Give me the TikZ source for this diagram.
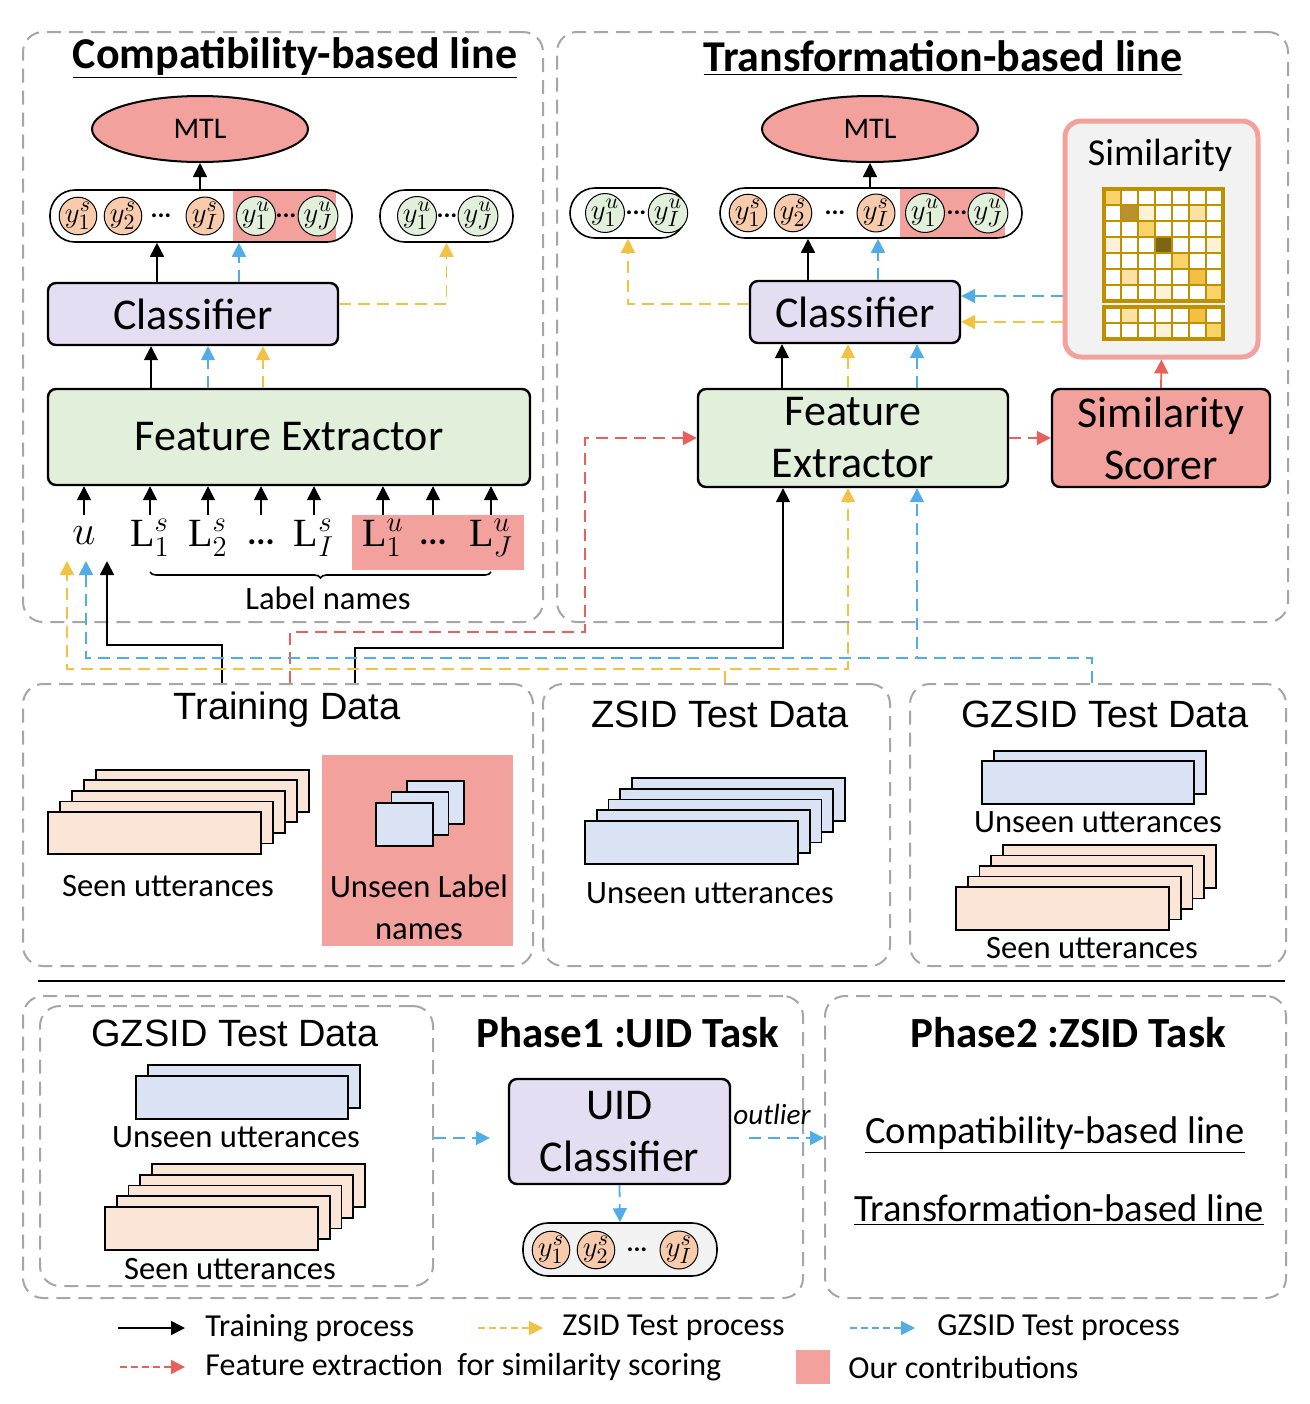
\documentclass[tikz,border=0pt]{standalone}
\usepackage{fontspec}
\setmainfont{Carlito}
\newfontfamily\arialfont{Liberation Sans}
\newfontfamily\serifl{Liberation Serif}
\usetikzlibrary{arrows.meta, positioning, shapes.geometric, decorations.pathreplacing}

\definecolor{contrib}{HTML}{F2A19D}
\definecolor{clsfill}{HTML}{E5DDF1}
\definecolor{fefill}{HTML}{E2EFDA}
\definecolor{seenfill}{HTML}{FBE5D6}
\definecolor{seencirc}{HTML}{F8CBAD}
\definecolor{unseenfill}{HTML}{DAE3F3}
\definecolor{zsidcol}{HTML}{F4C242}
\definecolor{gzsidcol}{HTML}{52ADE6}
\definecolor{featcol}{HTML}{E8605A}
\definecolor{panelgray}{HTML}{A6A6A6}
\definecolor{simgray}{HTML}{F2F2F2}
\definecolor{gold}{HTML}{BF9000}
\definecolor{mgA}{HTML}{FDF1D8}
\definecolor{mgB}{HTML}{FBE2A4}
\definecolor{mgC}{HTML}{F8D36A}
\definecolor{mgD}{HTML}{F4C043}
\definecolor{mgE}{HTML}{B8922E}
\definecolor{mgF}{HTML}{7F6414}

\newcommand\lname[2]{$\mbox{\serifl L}^{#1}_{#2}$}

\tikzset{
  panel/.style={draw=panelgray, line width=1pt, dash pattern=on 7pt off 4pt, rounded corners=10pt, inner sep=0pt},
  blk/.style={draw, line width=1.2pt, rounded corners=4pt, align=center, inner sep=0pt, font=\fontsize{22}{26}\selectfont},
  clsbox/.style={blk, fill=clsfill},
  febox/.style={blk, fill=fefill},
  mtl/.style={ellipse, draw, line width=1pt, fill=contrib, minimum width=108pt, minimum height=33pt, font=\fontsize{15}{15}\selectfont},
  pill/.style={draw, line width=0.8pt, rounded corners=12.5pt, inner sep=0pt},
  ys/.style={circle, draw, line width=0.5pt, fill=seencirc, minimum size=17pt, inner sep=0pt, font=\fontsize{15}{15}\selectfont},
  yu/.style={ys, fill=fefill},
  pdots/.style={font=\bfseries\fontsize{13}{13}\selectfont},
  trn/.style={->, line width=0.9pt},
  zs/.style={trn, draw=zsidcol, dash pattern=on 6pt off 3.5pt},
  gz/.style={trn, draw=gzsidcol, dash pattern=on 6pt off 3.5pt},
  ft/.style={trn, draw=featcol, dash pattern=on 6pt off 3.5pt},
  seenrect/.style={draw, line width=0.9pt, fill=seenfill},
  unseenrect/.style={draw, line width=0.9pt, fill=unseenfill},
  cell/.style={draw=gold, line width=1.2pt, fill=white},
  dtitle/.style={font=\arialfont\fontsize{19}{22}\selectfont},
  utxt/.style={font=\fontsize{16.3}{21}\selectfont, align=center},
  btitle/.style={font=\bfseries\fontsize{22}{26}\selectfont},
  inlab/.style={font=\fontsize{20}{20}\selectfont},
  legtxt/.style={anchor=west, inner sep=0pt, font=\fontsize{16}{19}\selectfont},
  lgd/.style={dash pattern=on 3.5pt off 2pt, line width=0.7pt},
}

\begin{document}
\begin{tikzpicture}[x=0.5pt, y=-0.5pt, >={Triangle[width=7pt,length=7pt]}]
\useasboundingbox (0,0) rectangle (1310,1404);

% panels
\node[panel, minimum width=260pt, minimum height=295pt] (cPanel) at (283,327) {};
\node[panel, minimum width=365.5pt, minimum height=295pt] (tPanel) at (922.5,327) {};
\node[panel, minimum width=255pt, minimum height=141pt] (trainP) at (278,825) {};
\node[panel, minimum width=173.5pt, minimum height=141pt] (zsP) at (716.5,825) {};
\node[panel, minimum width=188pt, minimum height=141pt] (gzP) at (1098,825) {};
\node[panel, minimum width=390pt, minimum height=151pt] (p1P) at (413,1147) {};
\node[panel, minimum width=196.5pt, minimum height=140pt] (inP) at (236.5,1146) {};
\node[panel, minimum width=230.5pt, minimum height=151pt] (p2P) at (1055.5,1147) {};
\draw[line width=1.3pt] (38,981) -- (1285,981);

% compatibility-based line
\node[btitle] (cTitle) at (295,58) {\underline{Compatibility-based line}};
\node[mtl] (cMTL) at (200,129) {MTL};
\fill[contrib] (233,190) rectangle (336,242);
\node[pill, minimum width=151pt, minimum height=26pt] (cPill) at (201,216) {};
\foreach \x/\t [count=\i] in {78/{y^s_1}, 123/{y^s_2}, 205/{y^s_I}}
  \node[ys] (cS\i) at (\x,216) {$\t$};
\node[yu] (cU1) at (256,216) {$y^u_1$};
\node[yu] (cUJ) at (318,216) {$y^u_J$};
\node[pdots] (cDa) at (161,216) {...};
\node[pdots] (cDb) at (286,216) {...};
\node[pill, minimum width=66.5pt, minimum height=26pt] (cPill2) at (446.5,216) {};
\node[yu] (cV1) at (417,216) {$y^u_1$};
\node[yu] (cVJ) at (478,216) {$y^u_J$};
\node[pdots] (cDc) at (447,216) {...};
\draw[trn] (cMTL |- cPill.north) -- (cMTL.south);

\node[clsbox, minimum width=145pt, minimum height=31pt] (cCls) at (193,314) {Classifier};
\draw[trn] (157,0 |- cCls.north) -- (157,0 |- cPill.south);
\draw[gz] (239,0 |- cCls.north) -- (239,0 |- cPill.south);
\draw[zs] (cCls.east |- 0,304) -| (cPill2.south);

\node[febox, minimum width=241pt, minimum height=48pt] (cFE) at (289,437) {Feature Extractor};
\draw[trn] (151,0 |- cFE.north) -- (151,0 |- cCls.south);
\draw[gz] (208,0 |- cFE.north) -- (208,0 |- cCls.south);
\draw[zs] (263,0 |- cFE.north) -- (263,0 |- cCls.south);

% inputs
\fill[contrib] (352,515) rectangle (524,570);
\node[inlab] (inU) at (84,536) {$u$};
\node[inlab] (inLa) at (150,538) {\lname{s}{1}};
\node[inlab] (inLb) at (208,538) {\lname{s}{2}};
\node[inlab, font=\bfseries\fontsize{17}{17}\selectfont] (inDa) at (261,542) {...};
\node[inlab] (inLc) at (314,538) {\lname{s}{I}};
\node[inlab] (inLd) at (383,538) {\lname{u}{1}};
\node[inlab, font=\bfseries\fontsize{17}{17}\selectfont] (inDb) at (433,542) {...};
\node[inlab] (inLe) at (491,538) {\lname{u}{J}};
\foreach \n in {inU,inLa,inLb,inDa,inLc,inLd,inDb,inLe}
  \draw[trn] (\n |- 0,515) -- (\n |- cFE.south);
\draw[decorate, decoration={brace, mirror, amplitude=3pt}, line width=0.8pt] (inLa |- 0,572) -- (inLe |- 0,572);
\node[utxt] (lblNames) at (328,598) {Label names};
\coordinate (uTip) at (86,561);

% transformation-based line
\node[btitle] (tTitle) at (943,58) {\underline{Transformation-based line}};
\node[mtl] (tMTL) at (870,129) {MTL};
\fill[contrib] (900,188) rectangle (1005,238);
\node[pill, minimum width=151pt, minimum height=25pt] (tPill) at (871,213) {};
\foreach \x/\t [count=\i] in {748/{y^s_1}, 793/{y^s_2}, 876/{y^s_I}}
  \node[ys] (tS\i) at (\x,213) {$\t$};
\node[yu] (tU1) at (925,213) {$y^u_1$};
\node[yu] (tUJ) at (988,213) {$y^u_J$};
\node[pdots] (tDa) at (835,213) {...};
\node[pdots] (tDb) at (957,213) {...};
\node[pill, minimum width=58pt, minimum height=25pt] (tPill2) at (628,213) {};
\node[yu] (tV1) at (605,213) {$y^u_1$};
\node[yu] (tVI) at (668,213) {$y^u_I$};
\node[pdots] (tDc) at (636,213) {...};
\draw[trn] (tMTL |- tPill.north) -- (tMTL.south);

\node[clsbox, minimum width=105pt, minimum height=31pt] (tCls) at (855,312) {Classifier};
\draw[trn] (808,0 |- tCls.north) -- (808,0 |- tPill.south);
\draw[gz] (878,0 |- tCls.north) -- (878,0 |- tPill.south);
\draw[zs] (tCls.west |- 0,304) -| (tPill2.south);

\node[febox, minimum width=155pt, minimum height=49pt] (tFE) at (853,438) {Feature\\Extractor};
\draw[trn] (782,0 |- tFE.north) -- (782,0 |- tCls.south);
\draw[zs] (848,0 |- tFE.north) -- (848,0 |- tCls.south);
\draw[gz] (917,0 |- tFE.north) -- (917,0 |- tCls.south);

\node[blk, fill=contrib, minimum width=109pt, minimum height=49pt] (scorer) at (1161,438) {Similarity\\Scorer};
\draw[ft] (tFE.east) -- (scorer.west);
\node[draw=contrib, line width=2.5pt, fill=simgray, rounded corners=8pt, minimum width=96.5pt, minimum height=118pt] (simBox) at (1161.5,239) {};
\node[font=\fontsize{19}{22}\selectfont] (simLab) at (1160,155) {Similarity};
\draw[trn, draw=featcol] (scorer.north) -- (simBox.south);
% similarity matrix
\foreach \r in {0,...,6} \foreach \c in {0,...,6}
  \draw[cell] ({1104+17*\c},{189+16*\r}) rectangle +(17,16);
\foreach \c/\r/\col in {0/0/mgC, 1/1/mgE, 2/1/mgA, 5/1/mgB, 2/2/mgC, 0/3/mgA, 3/3/mgF, 6/3/mgA, 4/4/mgC, 1/5/mgB, 5/5/mgD, 3/6/mgA, 6/6/mgC}
  \draw[cell, fill=\col] ({1104+17*\c},{189+16*\r}) rectangle +(17,16);
\foreach \r in {0,1} \foreach \c in {0,...,6}
  \draw[cell] ({1104+17*\c},{307+16*\r}) rectangle +(17,16);
\foreach \c/\r/\col in {1/0/mgB, 5/0/mgD, 3/1/mgA, 6/1/mgC}
  \draw[cell, fill=\col] ({1104+17*\c},{307+16*\r}) rectangle +(17,16);
\draw[gold, line width=1.8pt] (1104,189) rectangle (1223,301) (1104,307) rectangle (1223,339);
\draw[gz] (simBox.west |- 0,296) -- (tCls.east |- 0,296);
\draw[zs] (simBox.west |- 0,322) -- (tCls.east |- 0,322);

% data flows
\draw[trn] (222,0 |- trainP.north) |- (107,645) -- (107,0 |- uTip);
\draw[trn] (355,0 |- trainP.north) |- (783,648) -- (783,0 |- tFE.south);
\draw[ft] (290,0 |- trainP.north) |- (585,632) |- (tFE.west);
\draw[zs] (725,0 |- zsP.north) |- (67,669) -- (67,0 |- uTip);
\draw[zs] (725,0 |- zsP.north) |- (848,669) -- (848,0 |- tFE.south);
\draw[gz] (1092,0 |- gzP.north) |- (86,658) -- (uTip);
\draw[gz] (1092,0 |- gzP.north) |- (917,658) -- (917,0 |- tFE.south);

% training data
\node[dtitle] (trainT) at (287,710) {Training Data};
\foreach \i in {4,3,...,0}
  \draw[seenrect] ({48+12*\i},{812-10.6*\i}) rectangle +(213,42);
\node[utxt] (trainS) at (168,886) {Seen utterances};
\fill[contrib] (322,755) rectangle (513,946);
\foreach \i in {2,1,0}
  \draw[unseenrect] ({376+15.5*\i},{803-11*\i}) rectangle +(57,43);
\node[utxt] (trainU) at (419,907) {Unseen Label\\names};

% zsid test data
\node[dtitle] (zsT) at (720,714) {ZSID Test Data};
\foreach \i in {4,3,...,0}
  \draw[unseenrect] ({585+11.75*\i},{821-10.75*\i}) rectangle +(213,43);
\node[utxt] (zsU) at (710,893) {Unseen utterances};

% gzsid test data
\node[dtitle] (gzT) at (1105,714) {GZSID Test Data};
\foreach \i in {1,0}
  \draw[unseenrect] ({982+12*\i},{761-10*\i}) rectangle +(212,43);
\node[utxt] (gzU) at (1098,822) {Unseen utterances};
\foreach \i in {4,3,...,0}
  \draw[seenrect] ({956+11.75*\i},{887-10.5*\i}) rectangle +(213,43);
\node[utxt] (gzS) at (1092,948) {Seen utterances};

% phase 1
\node[dtitle] (inT) at (235,1033) {GZSID Test Data};
\foreach \i in {1,0}
  \draw[unseenrect] ({136+12*\i},{1076-11*\i}) rectangle +(212,43);
\node[utxt] (inU2) at (236,1137) {Unseen utterances};
\foreach \i in {4,3,...,0}
  \draw[seenrect] ({105+11.75*\i},{1207-10.75*\i}) rectangle +(213,43);
\node[utxt] (inS2) at (230,1269) {Seen utterances};
\node[btitle, font=\bfseries\fontsize{21.5}{26}\selectfont] (p1T) at (628,1033) {Phase1 :UID Task};
\node[clsbox, minimum width=110.5pt, minimum height=52.5pt] (uid) at (619.5,1131.5) {UID\\Classifier};
\node[pill, fill=simgray, minimum width=97pt, minimum height=26.5pt] (bPill) at (620,1249.5) {};
\foreach \x/\t [count=\i] in {551/{y^s_1}, 596/{y^s_2}, 679/{y^s_I}}
  \node[ys] (bS\i) at (\x,1250) {$\t$};
\node[pdots] (bDa) at (637,1250) {...};
\draw[gz, shorten >=9pt] (inP.east |- 0,1138) -- (uid.west |- 0,1138);
\draw[gz] (uid.south) -- (bPill.north);
\node[font=\itshape\fontsize{14.6}{16}\selectfont] (outl) at (772,1114) {outlier};
\draw[gz, shorten <=9pt] (uid.east |- 0,1138) -- (p2P.west |- 0,1138);

% phase 2
\node[btitle, font=\bfseries\fontsize{21.5}{26}\selectfont] (p2T) at (1068,1033) {Phase2 :ZSID Task};
\node[font=\fontsize{19.3}{23}\selectfont] (p2C) at (1055,1135) {\underline{Compatibility-based line}};
\node[font=\fontsize{19.3}{23}\selectfont] (p2T2) at (1059,1210) {\underline{Transformation-based line}};

% legend
\node[legtxt] (lgTrain) at (205,1328) {Training process};
\draw[trn] ([xshift=-43.5pt]lgTrain.west) -- ([xshift=-10pt]lgTrain.west);
\node[legtxt] (lgZs) at (562,1328) {ZSID Test process};
\draw[zs, lgd] ([xshift=-42pt]lgZs.west) -- ([xshift=-9.5pt]lgZs.west);
\node[legtxt] (lgGz) at (937,1328) {GZSID Test process};
\draw[gz, lgd] ([xshift=-43.5pt]lgGz.west) -- ([xshift=-11pt]lgGz.west);
\node[legtxt] (lgFt) at (205,1367) {Feature extraction~ for similarity scoring};
\draw[ft, lgd] ([xshift=-42.5pt]lgFt.west) -- ([xshift=-10pt]lgFt.west);
\node[legtxt] (lgOur) at (848,1367) {Our contributions};
\fill[contrib] (796,1350) rectangle (830,1384);
\end{tikzpicture}
\end{document}
